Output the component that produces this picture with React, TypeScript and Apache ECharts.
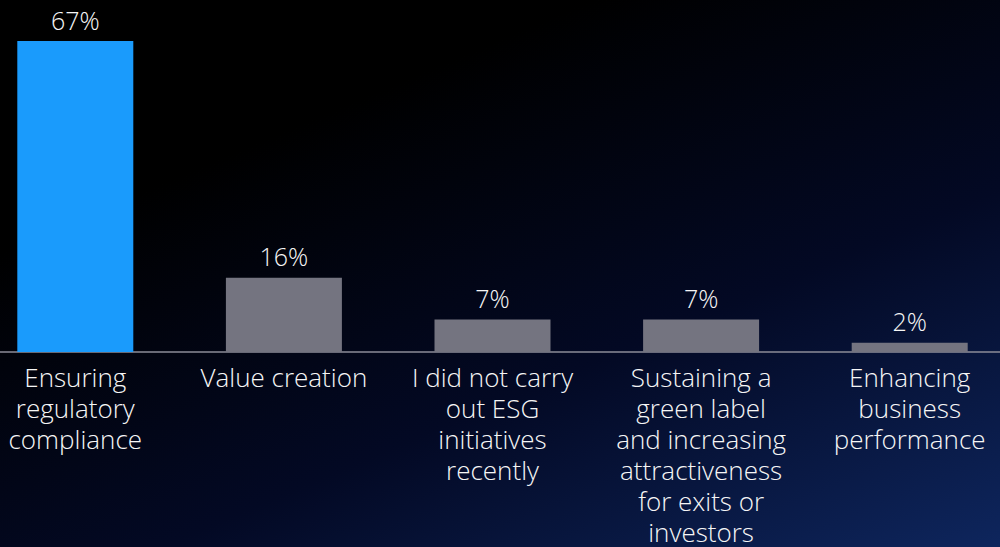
import React, { useEffect, useRef } from "react";
import * as echarts from "echarts";

const categories = [
  "Ensuring\nregulatory\ncompliance",
  "Value creation",
  "I did not carry\nout ESG\ninitiatives\nrecently",
  "Sustaining a\ngreen label\nand increasing\nattractiveness\nfor exits or\ninvestors",
  "Enhancing\nbusiness\nperformance",
];
const values = [67, 16, 7, 7, 2];
const barColors = ["#1a9bfc", "#747480", "#747480", "#747480", "#747480"];

export default function App() {
  const ref = useRef<HTMLDivElement>(null);
  useEffect(() => {
    document.body.style.margin = "0";
    const chart = echarts.init(ref.current!, null, { renderer: "svg" });
    chart.setOption({
      animation: false,
      backgroundColor: new echarts.graphic.LinearGradient(0.35, 0.2, 1, 1, [
        { offset: 0, color: "#000000" },
        { offset: 0.5, color: "#030924" },
        { offset: 1, color: "#0e265e" },
      ]),
      grid: { left: 0, right: 0, top: 41, bottom: 193, containLabel: false },
      xAxis: {
        type: "category",
        data: categories,
        axisLine: { lineStyle: { color: "#8c8c98", width: 1.5 } },
        axisTick: { show: false },
        axisLabel: {
          color: "#f6f6f6",
          fontFamily: "Open Sans",
          fontWeight: 300,
          fontSize: 26,
          lineHeight: 31,
          margin: 9,
          interval: 0,
          verticalAlign: "top",
        },
      },
      yAxis: { type: "value", min: 0, max: 67, show: false, splitLine: { show: false } },
      series: [
        {
          type: "bar",
          barWidth: 116,
          data: values.map((v, i) => ({ value: v, itemStyle: { color: barColors[i] } })),
          label: {
            show: true,
            position: "top",
            distance: 9,
            formatter: "{c}%",
            color: "#f6f6f6",
            fontFamily: "Open Sans",
            fontWeight: 300,
            fontSize: 25,
          },
        },
      ],
    });
    return () => chart.dispose();
  }, []);
  return <div ref={ref} style={{ position: "fixed", left: -29, top: 0, width: 1043, height: 547 }} />;
}
